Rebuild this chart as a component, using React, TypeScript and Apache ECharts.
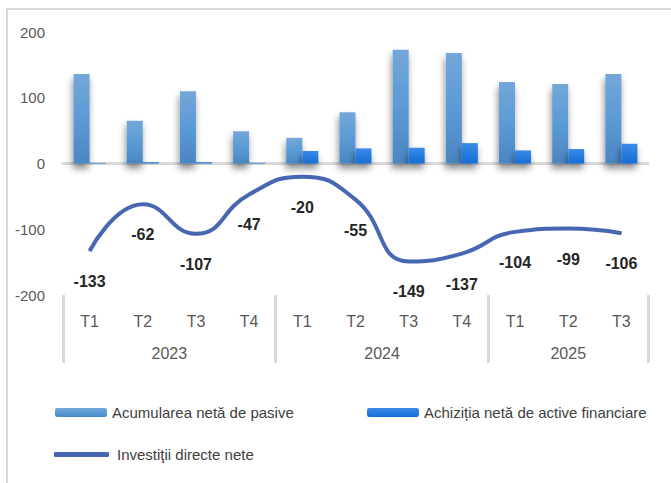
import React, { useEffect, useRef } from "react";
import * as echarts from "echarts";

const quarters = ["T1", "T2", "T3", "T4", "T1", "T2", "T3", "T4", "T1", "T2", "T3"];
const years = ["2023", "2024", "2025"];
const yearCenters = [2, 6, 9.5];
const yearBounds = [0, 4, 8, 11];
const pasive = [136, 65, 110, 49, 39, 78, 173, 168, 124, 121, 136];
const active = [1, 2, 2, 1, 19, 23, 24, 31, 20, 22, 30];
const investitii = [-133, -62, -107, -47, -20, -55, -149, -137, -104, -99, -106];
const yTicks = [-200, -100, 0, 100, 200];

const NAMES = [
  "Acumularea netă de pasive",
  "Achiziția netă de active financiare",
  "Investiţii directe nete",
];

const FONT = "'Liberation Sans', Arial, sans-serif";

export default function App() {
  const ref = useRef<HTMLDivElement>(null);
  useEffect(() => {
    if (!ref.current) return;
    const chart = echarts.init(ref.current, undefined, { renderer: "svg" });
    const g1 = new echarts.graphic.LinearGradient(0, 0, 0, 1, [
      { offset: 0, color: "#74a7d9" },
      { offset: 0.5, color: "#5b9bd5" },
      { offset: 1, color: "#4a86c2" },
    ]);
    const g2 = new echarts.graphic.LinearGradient(0, 0, 0, 1, [
      { offset: 0, color: "#3a8ae6" },
      { offset: 1, color: "#156ed6" },
    ]);
    const shadow = {
      shadowColor: "rgba(0,0,0,0.45)",
      shadowBlur: 7,
      shadowOffsetX: -1,
      shadowOffsetY: 5,
    };
    const legendText = { fontSize: 15, color: "#404040", fontFamily: FONT };
    chart.setOption({
      animation: false,
      textStyle: { fontFamily: FONT },
      graphic: [
        {
          type: "rect",
          shape: { x: 7, y: 9, width: 700, height: 500 },
          style: { fill: "none", stroke: "#d9d9d9", lineWidth: 2 },
          silent: true,
        },
      ],
      grid: { left: 63, right: 23, top: 32, bottom: 188 },
      legend: [
        {
          data: [NAMES[0]],
          left: 55,
          top: 405,
          padding: 0,
          itemWidth: 52,
          itemHeight: 9,
          textStyle: legendText,
        },
        {
          data: [NAMES[1]],
          left: 367,
          top: 405,
          padding: 0,
          itemWidth: 52,
          itemHeight: 9,
          textStyle: legendText,
        },
        {
          data: [{ name: NAMES[2], icon: "roundRect" }],
          left: 54,
          top: 447,
          padding: 0,
          itemWidth: 55,
          itemHeight: 5,
          textStyle: { ...legendText, padding: [0, 0, 0, 3] },
        },
      ],
      xAxis: [
        {
          type: "category",
          data: quarters,
          position: "bottom",
          axisLine: { show: false, onZero: false },
          axisTick: { show: false },
          axisLabel: { color: "#595959", fontSize: 16, margin: 18, fontFamily: FONT },
          splitLine: { show: false },
        },
        {
          type: "category",
          data: quarters,
          axisLine: { show: true, onZero: true, lineStyle: { color: "#d9d9d9", width: 3 } },
          axisTick: { show: false },
          axisLabel: { show: false },
          splitLine: { show: false },
        },
        {
          type: "value",
          min: 0,
          max: 11,
          position: "bottom",
          axisLine: { show: false, onZero: false },
          axisTick: {
            show: true,
            customValues: yearBounds,
            length: 68,
            lineStyle: { color: "#d9d9d9", width: 3 },
          },
          axisLabel: {
            show: true,
            customValues: yearCenters,
            formatter: (v: number) => years[yearCenters.indexOf(v)] ?? "",
            color: "#595959",
            fontSize: 16,
            margin: 50,
            fontFamily: FONT,
          },
          splitLine: { show: false },
        },
      ],
      yAxis: {
        type: "value",
        min: yTicks[0],
        max: yTicks[yTicks.length - 1],
        interval: 100,
        axisLine: { show: false },
        axisTick: { show: false },
        splitLine: { show: false },
        axisLabel: { color: "#595959", fontSize: 15, margin: 18, fontFamily: FONT },
      },
      series: [
        {
          name: NAMES[0],
          type: "bar",
          data: pasive,
          barWidth: 16,
          barGap: "0%",
          itemStyle: { color: g1, ...shadow },
        },
        {
          name: NAMES[1],
          type: "bar",
          data: active,
          barWidth: 16,
          barGap: "0%",
          itemStyle: { color: g2, ...shadow },
        },
        {
          name: NAMES[2],
          type: "line",
          data: investitii,
          smooth: 0.5,
          symbol: "circle",
          symbolSize: 1,
          showSymbol: true,
          lineStyle: { color: "#4767b3", width: 4 },
          itemStyle: { color: "#4767b3" },
          label: {
            show: true,
            position: "bottom",
            distance: 22,
            fontSize: 16,
            fontWeight: "bold",
            color: "#262626",
            fontFamily: FONT,
          },
          z: 3,
        },
      ],
    });
    return () => chart.dispose();
  }, []);
  return (
    <div
      ref={ref}
      style={{ position: "fixed", left: 0, top: 0, width: 671, height: 483, background: "#fff" }}
    />
  );
}
